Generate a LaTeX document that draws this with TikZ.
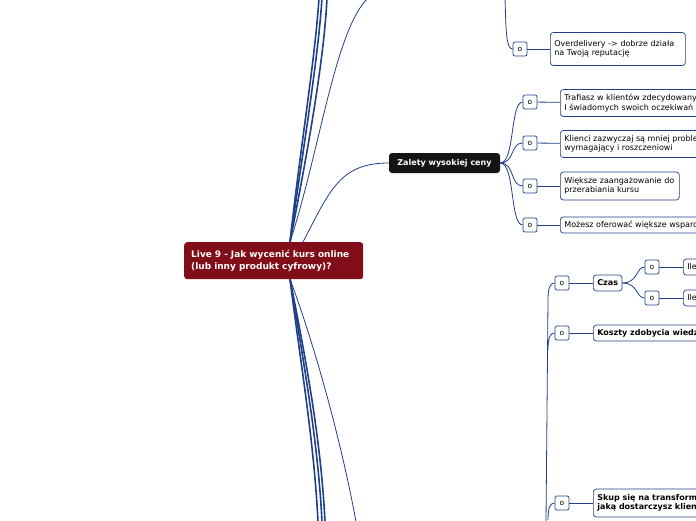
\documentclass[tikz,border=0pt]{standalone}
\usepackage{fontspec}
\setmainfont{DejaVu Sans}
\definecolor{lnk}{HTML}{1F3F8A}
\definecolor{rootred}{HTML}{810D18}
\tikzset{
  x=1pt,y=-1pt,
  lnk/.style={draw=lnk,line width=0.8pt},
  trunk/.style={draw=lnk,line width=1.6pt},
  obox/.style={draw=lnk,fill=white,rounded corners=2pt,line width=0.7pt,minimum width=14pt,minimum height=14pt,inner sep=0pt,font=\fontsize{7.5}{8}\selectfont},
  tbox/.style={draw=lnk,fill=white,rounded corners=3pt,line width=0.7pt,align=left,anchor=west,inner xsep=4pt,inner ysep=3pt,font=\fontsize{8}{9.5}\selectfont},
  bbox/.style={tbox,font=\fontsize{8}{9.5}\selectfont\bfseries},
}
\begin{document}
\begin{tikzpicture}
\useasboundingbox (0,0) rectangle (696,520);
\clip (0,0) rectangle (696,520);
% off-page coordinates
\coordinate (t1) at (319,-2); \coordinate (t2) at (322,-2); \coordinate (t3) at (327,-2);
\coordinate (t4) at (368,-2); \coordinate (t5) at (505,-2);
\coordinate (b1) at (318,522); \coordinate (b2) at (322,522); \coordinate (b3) at (325,522);
\coordinate (b4) at (356,522);
\coordinate (rt) at (290,242); \coordinate (rb) at (290,279);
\draw[trunk] (rt) .. controls (300,150) and (315,60) .. (t1);
\draw[trunk] (rt) .. controls (303,150) and (318,60) .. (t2);
\draw[trunk] (rt) .. controls (308,150) and (324,60) .. (t3);
\draw[lnk] (rt) .. controls (320,150) and (335,30) .. (t4);
\draw[trunk] (rb) .. controls (300,360) and (314,440) .. (b1);
\draw[trunk] (rb) .. controls (303,360) and (318,440) .. (b2);
\draw[trunk] (rb) .. controls (306,360) and (321,440) .. (b3);
\draw[lnk] (rb) .. controls (320,360) and (345,460) .. (b4);
% top overdelivery
\node[obox] (o0) at (520,49) {o};
\node[tbox,minimum height=33pt,text width=127pt] (ov) at (550,49) {Overdelivery -> dobrze działa\\na Twoją reputację};
\draw[lnk] (t5) .. controls (506,30) and (506,49) .. (o0.west);
\draw[lnk] (o0) -- (ov);
% Zalety
\node[fill=black!92,rounded corners=3pt,text=white,font=\fontsize{8}{9}\selectfont\bfseries,minimum width=111pt,minimum height=20pt] (zal) at (444.5,163) {Zalety wysokiej ceny};
\draw[lnk] (303,242) .. controls (330,190) and (340,163) .. (zal.west);
\node[obox] (z1) at (530,102) {o};
\node[obox] (z2) at (530,143) {o};
\node[obox] (z3) at (530,186) {o};
\node[obox] (z4) at (530,225) {o};
\foreach \i in {1,...,4} \draw[lnk] (zal.east) .. controls (515,163) and (510,0 |- z\i) .. (z\i.west);
\node[tbox,minimum height=27pt] (a1) at (560,103) {Trafiasz w klientów zdecydowanych\\I świadomych swoich oczekiwań};
\node[tbox,minimum height=27pt] (a2) at (560,144) {Klienci zazwyczaj są mniej problematyczni,\\wymagający i roszczeniowi};
\node[tbox,minimum height=28pt,text width=111pt] (a3) at (560,186) {Większe zaangażowanie do\\przerabiania kursu};
\node[tbox,minimum height=16pt] (a4) at (560,225) {Możesz oferować większe wsparcie};
\foreach \i in {1,...,4} \draw[lnk] (z\i) -- (a\i);
% bottom right
\coordinate (vb) at (546,522);
\node[obox] (c1) at (562,283) {o};
\node[obox] (c2) at (562,333) {o};
\node[obox] (c3) at (562,503) {o};
\draw[lnk] (vb) -- (548,300) .. controls (548,288) and (550,283) .. (c1.west);
\draw[lnk] (548,350) .. controls (548,338) and (550,333) .. (c2.west);
\draw[lnk] (548,520) .. controls (548,508) and (550,503) .. (c3.west);
\node[bbox,minimum height=16pt] (czas) at (593,283) {Czas};
\node[bbox,minimum height=16pt] (kosz) at (593,333) {Koszty zdobycia wiedzy};
\node[bbox,minimum height=28pt] (skup) at (593,503) {Skup się na transformacji\\jaką dostarczysz klientowi};
\draw[lnk] (c1) -- (czas); \draw[lnk] (c2) -- (kosz); \draw[lnk] (c3) -- (skup);
\node[obox] (d1) at (652,267) {o};
\node[obox] (d2) at (652,298) {o};
\draw[lnk] (czas.east) .. controls (638,283) and (636,267) .. (d1.west);
\draw[lnk] (czas.east) .. controls (638,283) and (636,298) .. (d2.west);
\node[tbox,minimum height=16pt] (e1) at (683,267) {Ile czasu};
\node[tbox,minimum height=16pt] (e2) at (683,298) {Ile czasu};
\draw[lnk] (d1) -- (e1); \draw[lnk] (d2) -- (e2);
% root
\node[fill=rootred,rounded corners=3pt,minimum width=179pt,minimum height=37pt,anchor=north west,text=white,font=\fontsize{9}{12}\selectfont\bfseries,align=left,text width=165pt] (root) at (184,242) {Live 9 - Jak wycenić kurs online\\(lub inny produkt cyfrowy)?};
\end{tikzpicture}
\end{document}
